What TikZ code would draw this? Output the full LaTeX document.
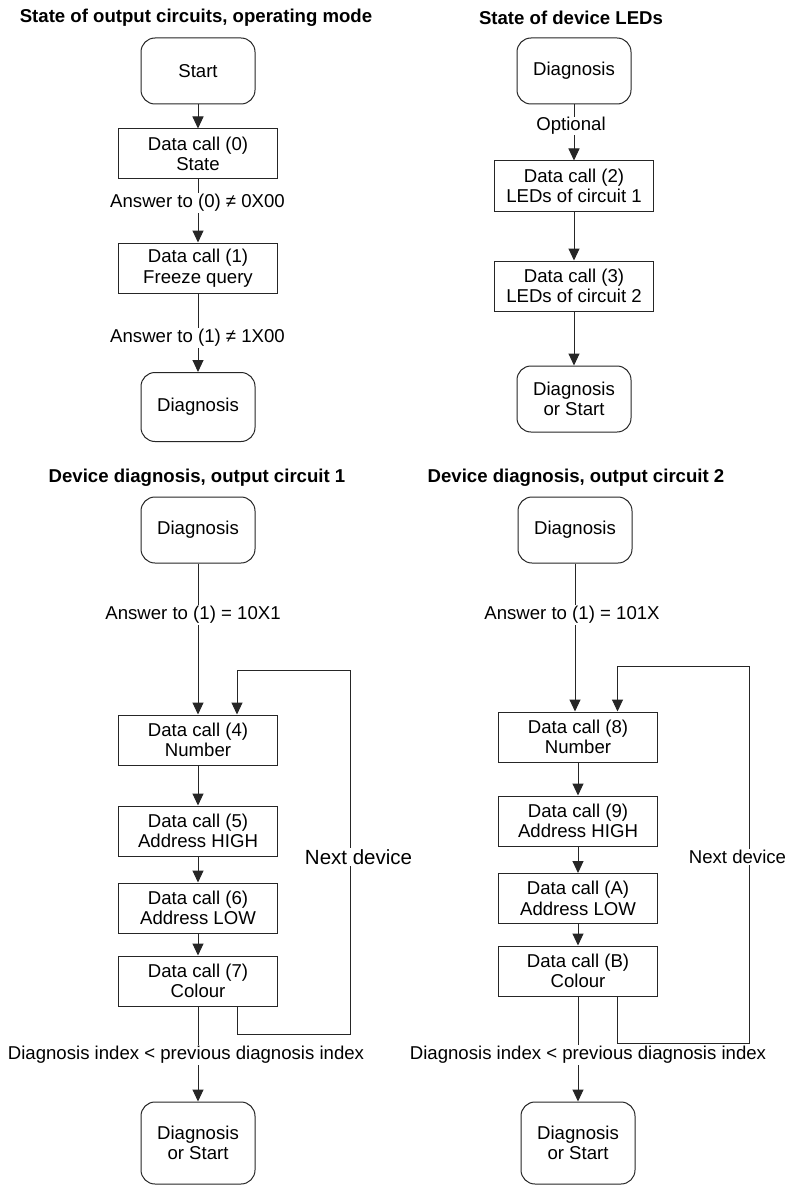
\documentclass[tikz,border=0pt]{standalone}
\usepackage{fontspec}
\setmainfont{Liberation Sans}
\usetikzlibrary{arrows.meta}
\newcommand{\bodyfont}{\fontsize{18.6}{20.5}\selectfont}
\newcommand{\bigfont}{\fontsize{20.5}{22}\selectfont}
\newcommand{\titlefont}{\fontsize{18.6}{20.5}\selectfont\bfseries}
\begin{document}
\begin{tikzpicture}[x=1pt,y=-1pt,
  term/.style={draw=black!85, line width=1pt, rounded corners=14pt, minimum width=114pt, minimum height=66pt, align=center, inner sep=0pt, font=\bodyfont},
  proc/.style={draw=black!85, line width=1pt, rectangle, minimum width=159pt, minimum height=50pt, align=center, inner sep=0pt, font=\bodyfont},
  lbl/.style={fill=white, inner sep=1pt, font=\bodyfont},
  ttl/.style={inner sep=0pt, font=\titlefont},
  arr/.style={-{Triangle[length=12pt,width=11pt]}, line width=1pt, draw=black!85},
  ln/.style={line width=1pt, draw=black!85}]
\useasboundingbox (0,0) rectangle (787,1185);
\fill[white] (0,0) rectangle (787,1185);

% ---------- top left ----------
\node[ttl] (t1) at (196,18) {State of output circuits, operating mode};
\node[term] (start) at (198,71) {Start};
\node[proc] (d0) at (198,154) {Data call (0)\\State};
\node[proc] (d1) at (198,268) {Data call (1)\\Freeze query};
\node[term, minimum height=69pt] (diagA) at (198,407) {Diagnosis};
\draw[arr] (start) -- (d0);
\draw[arr] (d0) -- (d1);
\draw[arr] (d1) -- (diagA);
\node[lbl] (la0) at (197.5,203) {Answer to (0) ≠ 0X00};
\node[lbl] (la1) at (197.5,338) {Answer to (1) ≠ 1X00};

% ---------- top right ----------
\node[ttl] (t2) at (571,18) {State of device LEDs};
\node[term] (diagB) at (574,71) {Diagnosis};
\node[proc] (d2) at (574,186) {Data call (2)\\LEDs of circuit 1};
\node[proc] (d3) at (574,286) {Data call (3)\\LEDs of circuit 2};
\node[term] (endB) at (574,399) {Diagnosis\\or Start};
\draw[arr] (diagB) -- (d2);
\draw[arr] (d2) -- (d3);
\draw[arr] (d3) -- (endB);
\node[lbl, inner sep=0.5pt] (lopt) at (571,126) {Optional};

% ---------- bottom left ----------
\node[ttl] (t3) at (197,478) {Device diagnosis, output circuit 1};
\node[term] (diagC) at (198,530) {Diagnosis};
\node[proc] (d4) at (198,740) {Data call (4)\\Number};
\node[proc] (d5) at (198,831) {Data call (5)\\Address HIGH};
\node[proc] (d6) at (198,908) {Data call (6)\\Address LOW};
\node[proc] (d7) at (198,981) {Data call (7)\\Colour};
\node[term, minimum height=82pt] (endC) at (198,1143) {Diagnosis\\or Start};
\coordinate (c1) at (237,1034);
\coordinate (c2) at (350,1034);
\coordinate (c3) at (350,670);
\coordinate (c4) at (237,670);
\draw[arr] (diagC) -- (d4);
\draw[arr] (d4) -- (d5);
\draw[arr] (d5) -- (d6);
\draw[arr] (d6) -- (d7);
\draw[arr] (d7) -- (endC);
\draw[arr] (d7.south -| c1) -- (c1) -- (c2) -- (c3) -- (c4) -- (c4 |- d4.north);
\node[lbl] (lc1) at (193,615) {Answer to (1) = 10X1};
\node[lbl, font=\bigfont] (nd1) at (358.5,857) {Next device};
\node[lbl] (lc2) at (186,1055) {Diagnosis index < previous diagnosis index};

% ---------- bottom right ----------
\node[ttl] (t4) at (576,478) {Device diagnosis, output circuit 2};
\node[term] (diagD) at (575,530) {Diagnosis};
\node[proc] (d8) at (578,737) {Data call (8)\\Number};
\node[proc] (d9) at (578,821) {Data call (9)\\Address HIGH};
\node[proc] (dA) at (578,898.5) {Data call (A)\\Address LOW};
\node[proc] (dB) at (578,971) {Data call (B)\\Colour};
\node[term, minimum height=82pt] (endD) at (578,1143) {Diagnosis\\or Start};
\coordinate (e1) at (617.5,1043);
\coordinate (e2) at (749,1043);
\coordinate (e3) at (749,666);
\coordinate (e4) at (617.5,666);
\draw[arr] (diagD) -- (diagD.south |- d8.north);
\draw[arr] (d8) -- (d9);
\draw[arr] (d9) -- (dA);
\draw[arr] (dA) -- (dB);
\draw[arr] (dB) -- (endD);
\draw[arr] (dB.south -| e1) -- (e1) -- (e2) -- (e3) -- (e4) -- (e4 |- d8.north);
\node[lbl] (ld1) at (572,615) {Answer to (1) = 101X};
\node[lbl] (nd2) at (737.5,857) {Next device};
\node[lbl] (ld2) at (588,1055) {Diagnosis index < previous diagnosis index};
\end{tikzpicture}
\end{document}
